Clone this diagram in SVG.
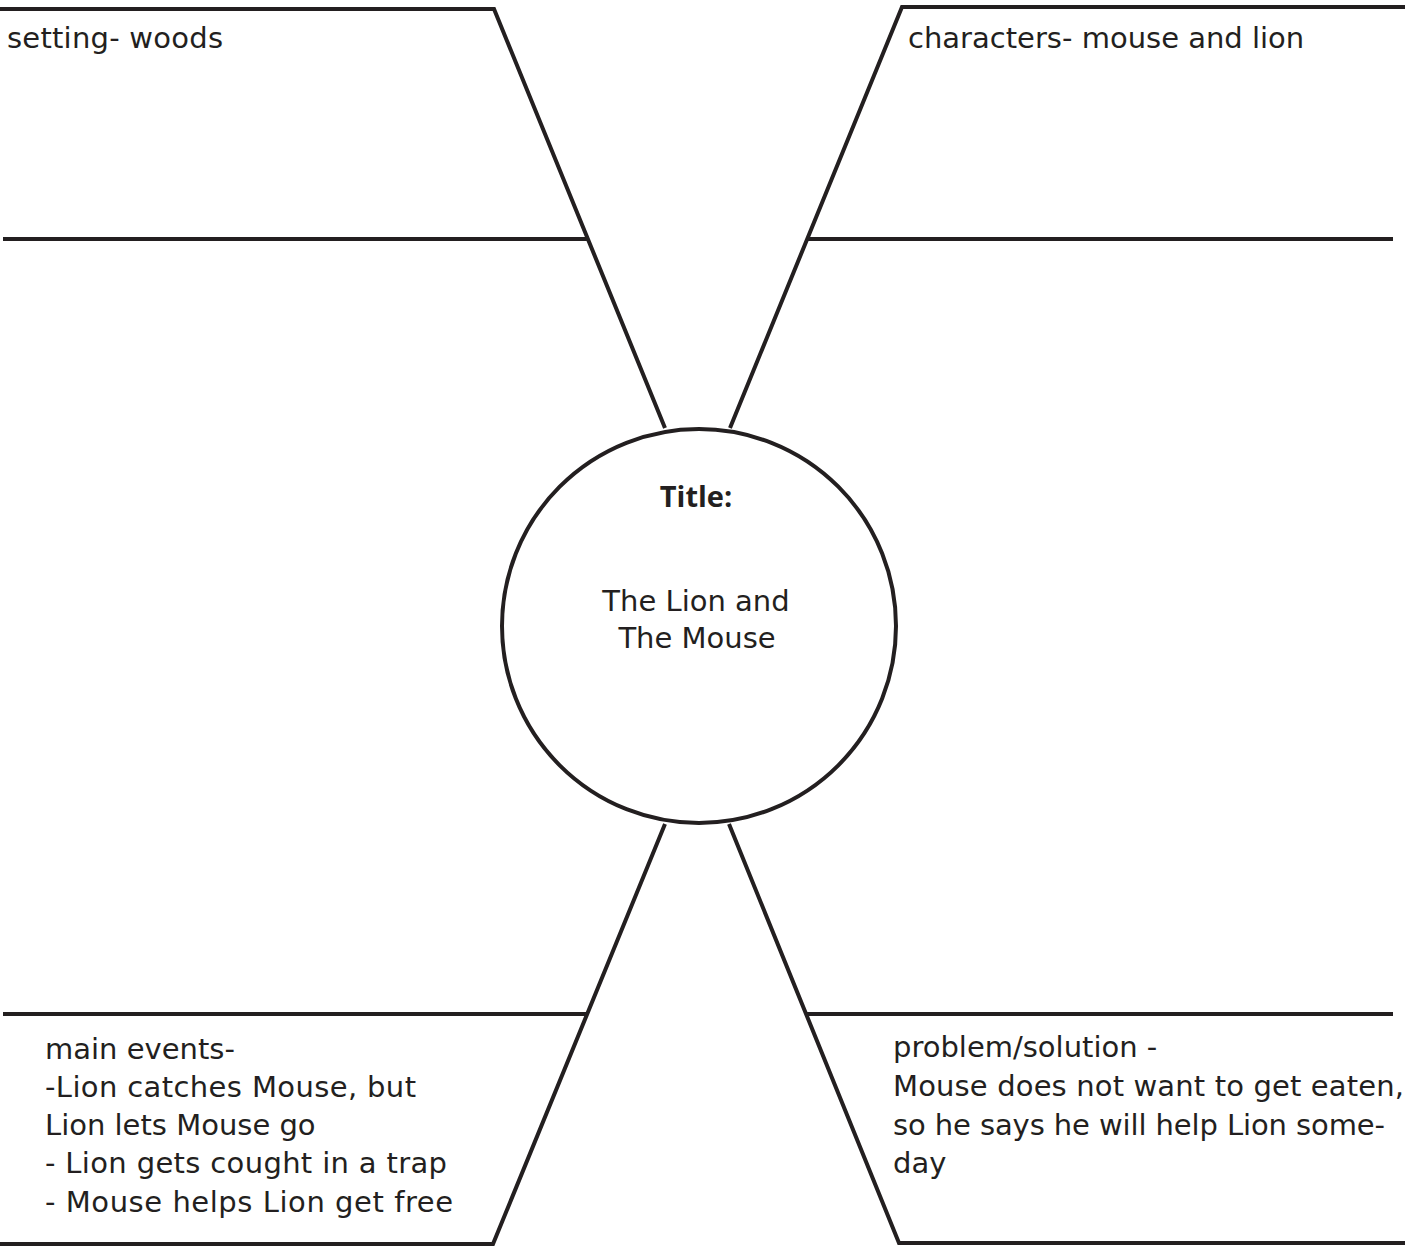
<svg xmlns="http://www.w3.org/2000/svg" width="1405" height="1247" viewBox="0 0 1405 1247">
<style>
.ln{fill:none;stroke:#231f20;stroke-width:4;stroke-linejoin:miter}
.t{font-family:"DejaVu Sans",sans-serif;font-size:29px;fill:#231f20}
.c{text-anchor:middle}
.b{font-family:"Open Sans","Liberation Sans",sans-serif;font-weight:bold;font-size:29px;fill:#231f20;text-anchor:middle}
</style>
<rect width="1405" height="1247" fill="#ffffff"/>
<g id="connectors">
<polyline class="ln" points="0,9 494,9 665,428"/>
<line class="ln" x1="3" y1="239" x2="588" y2="239"/>
<polyline class="ln" points="1405,7 902,7 730,428"/>
<line class="ln" x1="807" y1="239" x2="1393" y2="239"/>
<polyline class="ln" points="665,824 493,1244 0,1244"/>
<line class="ln" x1="3" y1="1014" x2="586" y2="1014"/>
<polyline class="ln" points="729,824 899,1243 1405,1243"/>
<line class="ln" x1="806" y1="1014" x2="1393" y2="1014"/>
</g>
<g id="center">
<circle class="ln" cx="699" cy="626" r="197"/>
<text class="b" x="696" y="507">Title:</text>
<text class="t c" x="696" y="611">The Lion and</text>
<text class="t c" x="697" y="648">The Mouse</text>
</g>
<g id="setting">
<text class="t" x="7" y="48" textLength="216" lengthAdjust="spacing">setting- woods</text>
</g>
<g id="characters">
<text class="t" x="908" y="48">characters- mouse and lion</text>
</g>
<g id="events">
<text class="t" x="45" y="1059">main events-</text>
<text class="t" x="45" y="1097" textLength="371" lengthAdjust="spacing">-Lion catches Mouse, but</text>
<text class="t" x="45" y="1135">Lion lets Mouse go</text>
<text class="t" x="45" y="1173" textLength="402" lengthAdjust="spacing">- Lion gets cought in a trap</text>
<text class="t" x="45" y="1212" textLength="408" lengthAdjust="spacing">- Mouse helps Lion get free</text>
</g>
<g id="problem">
<text class="t" x="893" y="1057">problem/solution -</text>
<text class="t" x="893" y="1096" textLength="511" lengthAdjust="spacing">Mouse does not want to get eaten,</text>
<text class="t" x="893" y="1135" textLength="492" lengthAdjust="spacing">so he says he will help Lion some-</text>
<text class="t" x="893" y="1173">day</text>
</g>
</svg>
